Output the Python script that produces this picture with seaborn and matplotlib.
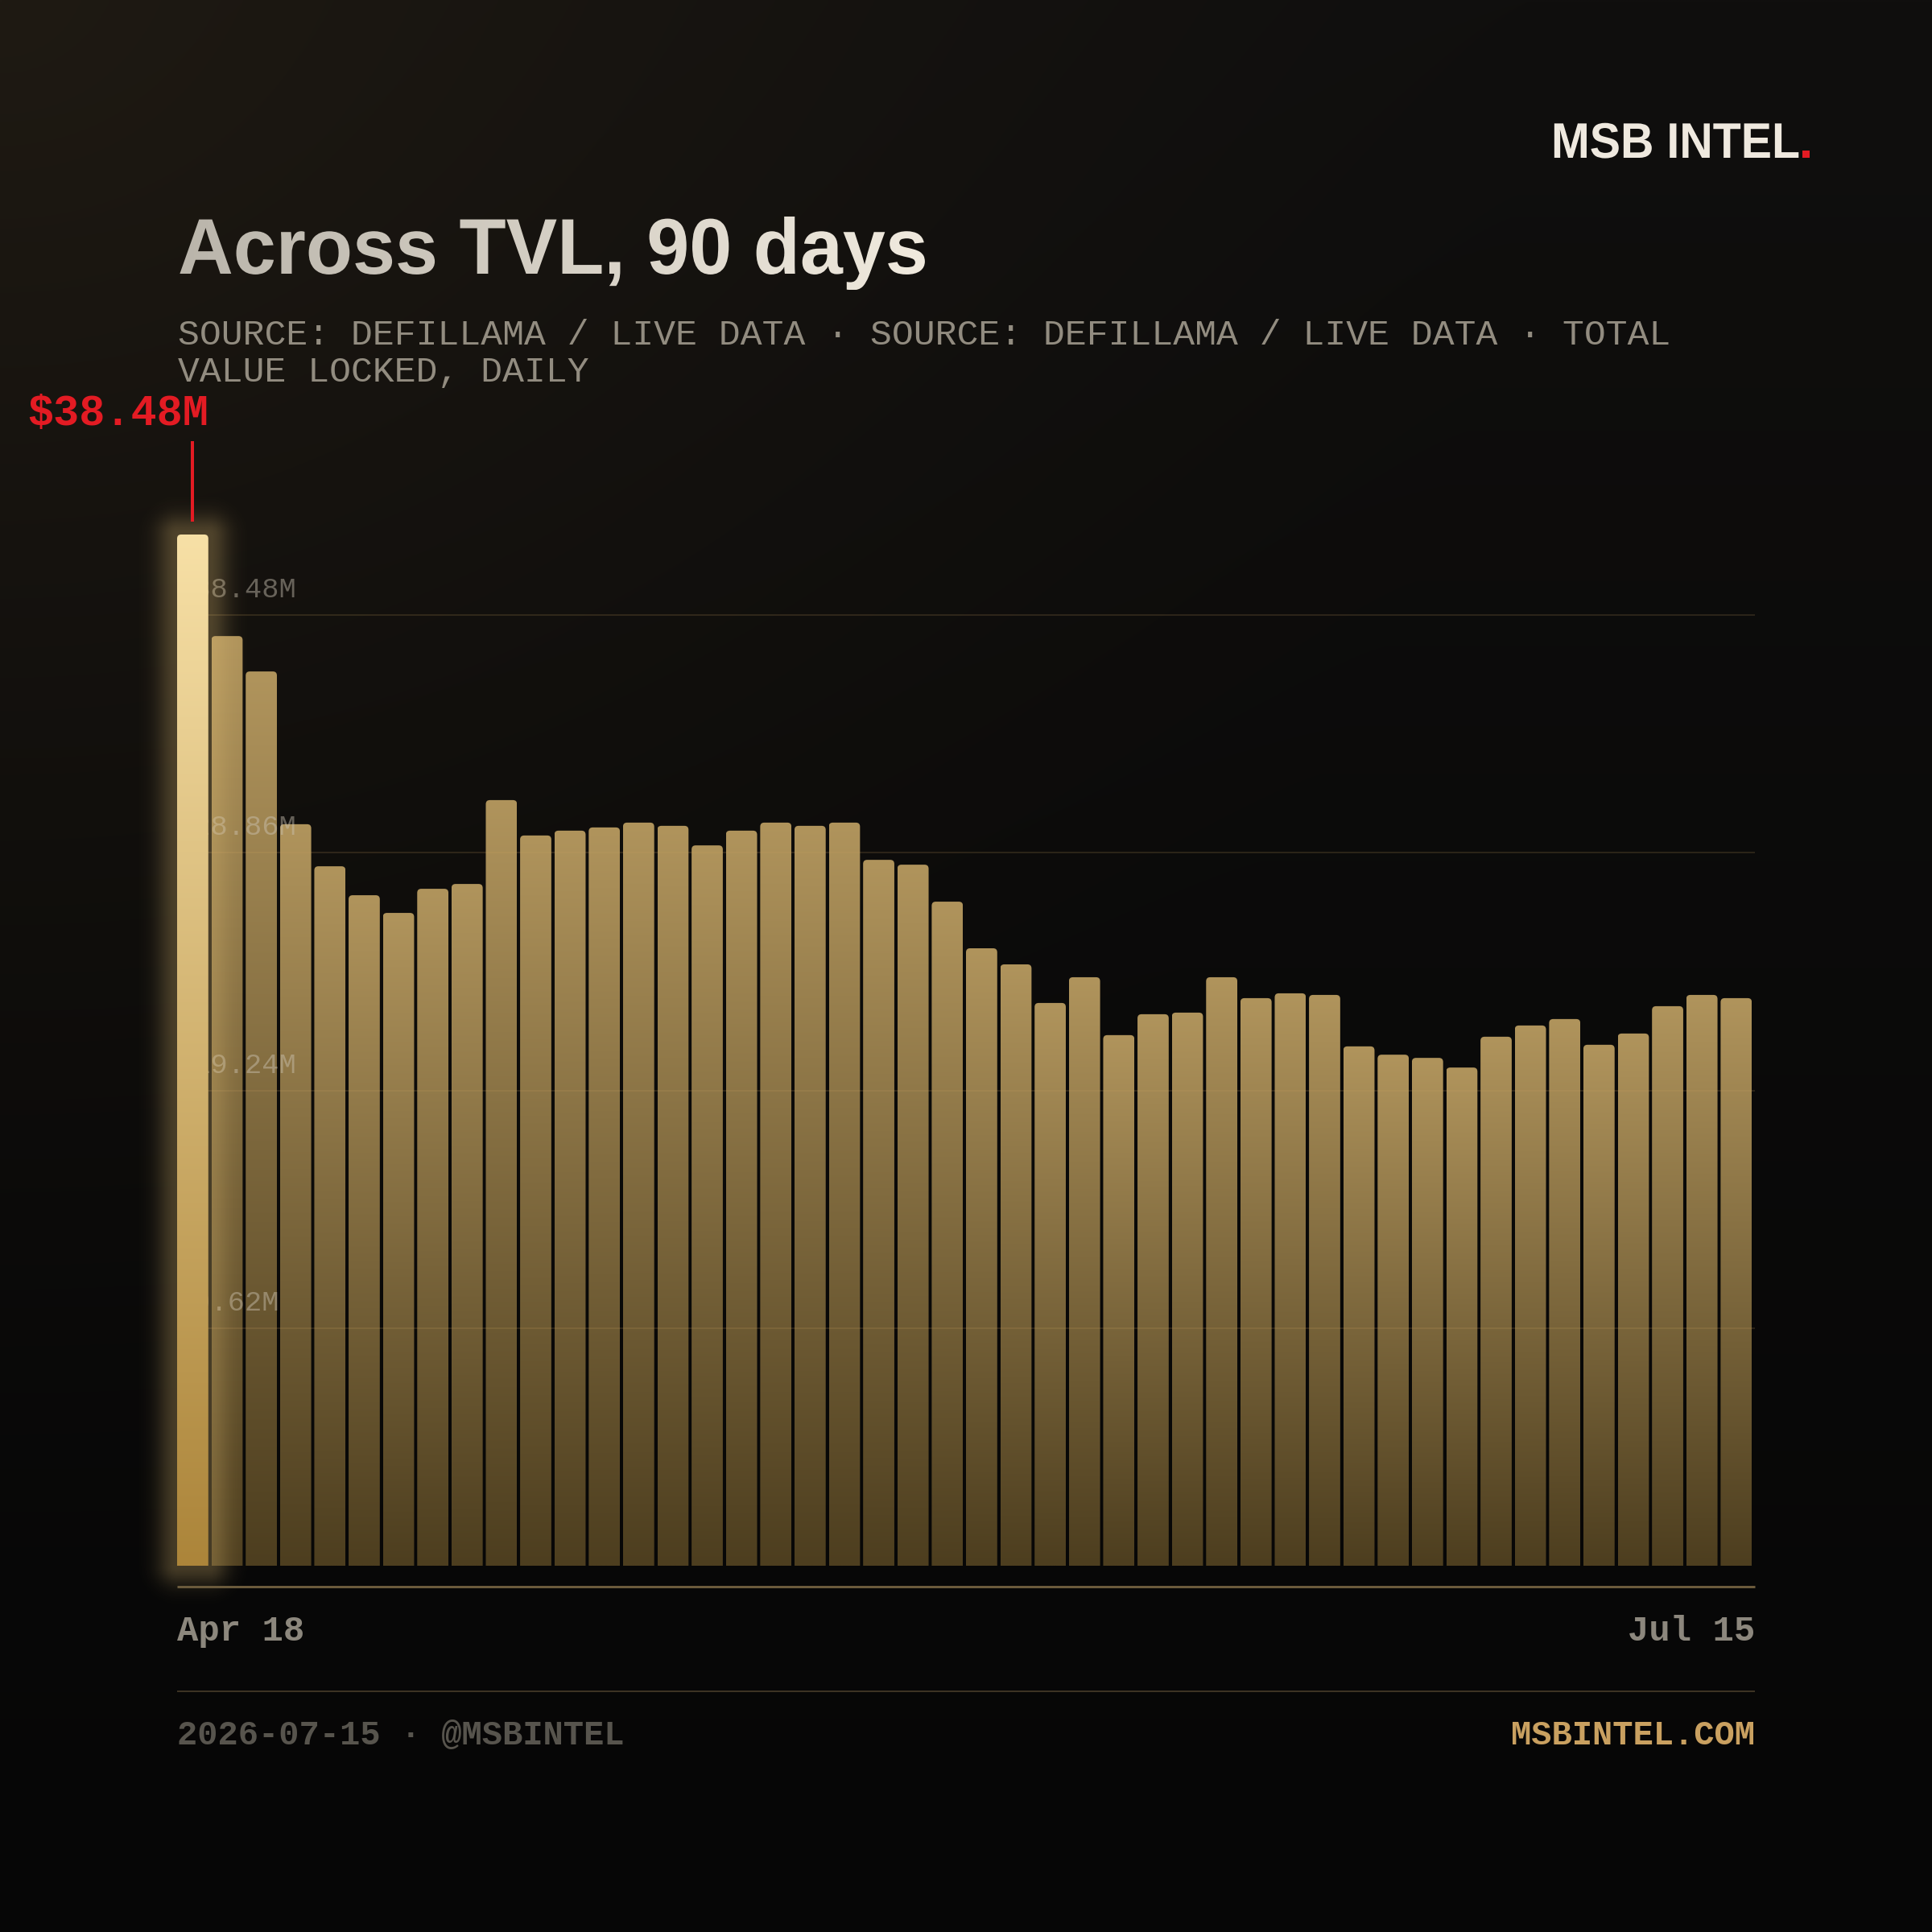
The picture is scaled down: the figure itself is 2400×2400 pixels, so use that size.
import numpy as np
import pandas as pd
import matplotlib
matplotlib.use("Agg")
import matplotlib.pyplot as plt
import matplotlib.transforms as mtransforms
from matplotlib.patches import FancyBboxPatch, PathPatch
from matplotlib.textpath import TextPath
from matplotlib.font_manager import FontProperties
from matplotlib.lines import Line2D
import seaborn as sns

# ---------------- data ----------------
TVL_M = [38.48, 34.69, 33.37, 27.67, 26.10, 25.02, 24.36, 25.26, 25.44, 28.57,
         27.25, 27.43, 27.55, 27.73, 27.61, 26.88, 27.43, 27.73, 27.61, 27.73,
         26.34, 26.16, 24.78, 23.04, 22.44, 21.00, 21.96, 19.80, 20.58, 20.64,
         21.96, 21.18, 21.36, 21.30, 19.38, 19.07, 18.95, 18.59, 19.74, 20.16,
         20.40, 19.44, 19.86, 20.88, 21.30, 21.18]
BAR_INDEX = list(range(len(TVL_M)))
GRID_VALUES = [9.62, 19.24, 28.86, 38.48]
GRID_LABELS = ["$9.62M", "$19.24M", "$28.86M", "$38.48M"]
X_LABELS = ["Apr 18", "Jul 15"]
PEAK_LABEL = "$38.48M"
TITLE = "Across TVL, 90 days"
SUBTITLE_LINES = ["SOURCE: DEFILLAMA / LIVE DATA \u00b7 SOURCE: DEFILLAMA / LIVE DATA \u00b7 TOTAL",
                  "VALUE LOCKED, DAILY"]
FOOTER_LEFT = "2026-07-15 \u00b7 @MSBINTEL"
FOOTER_RIGHT = "MSBINTEL.COM"
BRAND = "MSB INTEL"

# ---------------- style ----------------
W = H = 2400
DPI = 100
PT = 72.0 / DPI            # points per pixel
MONO = "Liberation Mono"
SANS = "Liberation Sans"
RED = "#e31b23"
GOLD = "#c9a060"

sns.set_style("dark")
plt.rcParams["font.family"] = [SANS, "DejaVu Sans"]

fig = plt.figure(figsize=(W / DPI, H / DPI), dpi=DPI)
fig.patch.set_facecolor("#0b0b0a")

# ---------------- background ----------------
bg = fig.add_axes([0, 0, 1, 1], zorder=-10)
gy, gx = np.mgrid[0:H:4, 0:W:4].astype(float)
t = gy / H
base = np.stack([16 - 10 * t, 15 - 9 * t, 14 - 8 * t], axis=-1)
r = np.hypot(gx, gy)
warm = np.clip(1 - r / 1900.0, 0, 1) ** 1.3
base = base + warm[..., None] * np.array([15, 11, 5])
bg.imshow(np.clip(base / 255.0, 0, 1), extent=[0, W, 0, H], origin="upper",
          aspect="auto", interpolation="bilinear")
bg.set_xlim(0, W); bg.set_ylim(0, H); bg.axis("off")

# ---------------- plot axes ----------------
PL, PR, PB, PT_TOP, GRID_TOP = 220, 2180, 1945, 664, 764
ax = fig.add_axes([PL / W, 1 - PB / H, (PR - PL) / W, (PB - PT_TOP) / H], zorder=0)
ax_grid = fig.add_axes([PL / W, 1 - PB / H, (PR - PL) / W, (PB - GRID_TOP) / H], zorder=-5)
ax_grid.set_ylim(0, GRID_VALUES[-1]); ax_grid.set_xlim(0, 1); ax_grid.axis("off")
ax_grid.patch.set_alpha(0)

df = pd.DataFrame({"bar": BAR_INDEX, "tvl": TVL_M})
BW = 0.91
sns.barplot(data=df, x="bar", y="tvl", ax=ax, width=BW, color="#a08450",
            saturation=1, order=BAR_INDEX)
n = len(TVL_M)
XL = (-BW / 2, n - BW / 2)
YL = (0, max(TVL_M))
ax.set_xlim(*XL); ax.set_ylim(*YL)
ax.set_facecolor("none")
for s in ax.spines.values():
    s.set_visible(False)
ax.set_xticks([]); ax.set_yticks([]); ax.set_xlabel(""); ax.set_ylabel("")
ax.grid(False)

p0 = ax.transData.transform((0, 0)); p1 = ax.transData.transform((1, 1))
px_x, px_y = p1[0] - p0[0], p1[1] - p0[1]
RAD = 5.0  # corner radius in px


def vgrad(top, bottom, steps=256):
    tt = np.linspace(0, 1, steps)[:, None, None]
    a = np.array(top, float)[None, None, :]
    b = np.array(bottom, float)[None, None, :]
    return (a * (1 - tt) + b * tt) / 255.0


peak = int(np.argmax(TVL_M))
peak_geom = None
for i, p in enumerate(list(ax.patches)):
    x0, w, h = p.get_x(), p.get_width(), p.get_height()
    p.set_visible(False)
    if i == peak:
        g = vgrad((247, 224, 166), (172, 133, 58))
        z = 4
        peak_geom = (x0, w, h)
    else:
        g = vgrad((176, 148, 92), (77, 62, 31))
        z = 1
    im = ax.imshow(g, extent=[x0, x0 + w, 0, h], origin="upper", aspect="auto",
                   interpolation="bilinear", zorder=z)
    clip = FancyBboxPatch((x0, -1), w, h + 1,
                          boxstyle=f"round,pad=0,rounding_size={RAD / px_x}",
                          mutation_aspect=px_x / px_y, transform=ax.transData)
    im.set_clip_path(clip)

# glow around the peak bar
x0, w, h = peak_geom
X0, Y0 = ax.transData.transform((x0, 0))
X1, Y1 = ax.transData.transform((x0 + w, h))
pad = 70
xs = np.arange(X0 - pad, X1 + pad, 2.0)
ys = np.arange(Y0 - pad, Y1 + pad, 2.0)
XX, YY = np.meshgrid(xs, ys)
dx = np.maximum(np.maximum(X0 - XX, XX - X1), 0)
dy = np.maximum(np.maximum(Y0 - YY, YY - Y1), 0)
d = np.hypot(dx, dy)
alpha = 0.28 * np.exp(-0.5 * (d / 18.0) ** 2)
rgba = np.zeros(d.shape + (4,))
rgba[..., 0] = 232 / 255; rgba[..., 1] = 196 / 255; rgba[..., 2] = 120 / 255
rgba[..., 3] = alpha
inv = ax.transData.inverted()
ex0, ey0 = inv.transform((xs[0], ys[0]))
ex1, ey1 = inv.transform((xs[-1], ys[-1]))
gl = ax.imshow(rgba, extent=[ex0, ex1, ey0, ey1], origin="lower", aspect="auto",
               interpolation="bilinear", zorder=3)
gl.set_clip_on(False)

# grid lines and labels (grid scale axes)
blend = mtransforms.blended_transform_factory(ax.transAxes, ax_grid.transData)
for v, lab in zip(GRID_VALUES, GRID_LABELS):
    ax.add_line(Line2D([0, 1], [v, v], transform=blend, color=GOLD, alpha=0.17,
                       lw=2 * PT, zorder=2))
    ax.annotate(lab, xy=(0, v), xycoords=blend, xytext=(0, 22 * PT),
                textcoords="offset points", ha="left", va="baseline",
                fontsize=25.5, family=MONO, color="#cdc5b6", alpha=0.45,
                zorder=2.5, annotation_clip=False)

# peak annotation
cx = x0 + w / 2
Xc, Yt = ax.transData.transform((cx, h))
ya = inv.transform((Xc, Yt + 16))[1]
yb = inv.transform((Xc, Yt + 116))[1]
ax.plot([cx, cx], [ya, yb], color=RED, lw=4 * PT, clip_on=False, zorder=6,
        solid_capstyle="butt")
ax.annotate(PEAK_LABEL, xy=(x0 + w, h), xytext=(0, 136 * PT),
            textcoords="offset points", ha="right", va="baseline",
            fontsize=38.5, fontweight="bold", family=MONO, color=RED,
            annotation_clip=False, zorder=6)
ax.set_xlim(*XL); ax.set_ylim(*YL)

# ---------------- overlay (texts, rules) ----------------
ov = fig.add_axes([0, 0, 1, 1], zorder=10)
ov.patch.set_alpha(0)


def Y(v):
    return H - v


# title with horizontal gradient
fp_b = FontProperties(family=SANS, weight="bold")
tp = TextPath((0, 0), TITLE, size=98, prop=fp_b)
tp = tp.transformed(mtransforms.Affine2D().scale(0.972, 1).translate(221, Y(340)))
bb = tp.get_extents()
gh = np.linspace(0, 1, 256)[None, :, None]
c0 = np.array([186, 181, 171])[None, None, :]
c1 = np.array([240, 234, 222])[None, None, :]
tim = ov.imshow((c0 * (1 - gh) + c1 * gh) / 255.0,
                extent=[bb.x0, bb.x1, bb.y0, bb.y1], aspect="auto", zorder=5)
tim.set_clip_path(PathPatch(tp, transform=ov.transData))

# brand
bp = TextPath((0, 0), BRAND, size=62, prop=fp_b)
bp = bp.transformed(mtransforms.Affine2D().scale(0.925, 1).translate(1927, Y(196)))
ov.add_patch(PathPatch(bp, facecolor="#efe9df", edgecolor="none", zorder=5))
dp = TextPath((0, 0), ".", size=62, prop=fp_b)
dbb = dp.get_extents()
dp = dp.transformed(mtransforms.Affine2D().translate(bp.get_extents().x1 + 5 - dbb.x0, Y(196)))
ov.add_patch(PathPatch(dp, facecolor=RED, edgecolor="none", zorder=5))

# subtitle
for k, line in enumerate(SUBTITLE_LINES):
    ov.text(221, Y(428 + 46 * k), line, fontsize=32.2, family=MONO,
            color="#928c80", ha="left", va="baseline")

# x axis rule and labels
ov.plot([PL, PR], [Y(1971), Y(1971)], color="#6a5a3c", lw=3 * PT,
        solid_capstyle="butt")
ov.text(PL, Y(2038), X_LABELS[0], fontsize=31.6, fontweight="bold", family=MONO,
        color="#8c877d", ha="left", va="baseline")
ov.text(PR, Y(2038), X_LABELS[-1], fontsize=31.6, fontweight="bold", family=MONO,
        color="#8c877d", ha="right", va="baseline")

# footer
ov.plot([PL, PR], [Y(2101), Y(2101)], color="#3c3323", lw=2 * PT,
        solid_capstyle="butt")
ov.text(PL, Y(2167), FOOTER_LEFT, fontsize=30.3, fontweight="bold", family=MONO,
        color="#57544d", ha="left", va="baseline")
ov.text(PR, Y(2167), FOOTER_RIGHT, fontsize=30.3, fontweight="bold", family=MONO,
        color=GOLD, ha="right", va="baseline")

ov.set_xlim(0, W); ov.set_ylim(0, H); ov.axis("off")

fig.savefig("out.png", dpi=DPI, facecolor=fig.get_facecolor())
